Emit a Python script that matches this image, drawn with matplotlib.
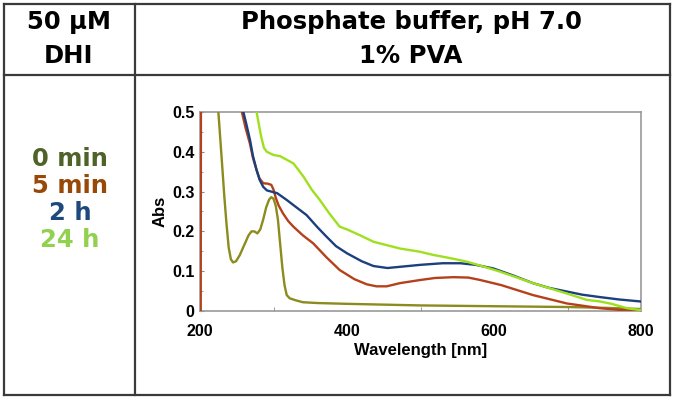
import matplotlib.pyplot as plt
from matplotlib.lines import Line2D

plt.rcParams['font.family'] = ['Liberation Sans', 'DejaVu Sans']
plt.rcParams['font.weight'] = 'bold'

# spectra (wavelength nm, absorbance)
wl_0min = [225, 230, 233, 236, 239, 242, 245, 249, 254, 260, 266, 270, 274,
           278, 282, 286, 290, 294, 297, 300, 303, 306, 309, 312, 315, 318,
           322, 330, 340, 360, 400, 450, 500, 550, 600, 650, 700, 750, 800]
abs_0min = [0.5, 0.37, 0.29, 0.22, 0.16, 0.13, 0.122, 0.125, 0.14, 0.165,
            0.19, 0.2, 0.2, 0.195, 0.205, 0.23, 0.26, 0.28, 0.286, 0.282,
            0.265, 0.23, 0.17, 0.11, 0.065, 0.04, 0.032, 0.027, 0.022, 0.02,
            0.018, 0.016, 0.014, 0.013, 0.012, 0.011, 0.01, 0.008, 0.005]

wl_5min = [201, 201.5, 255, 257, 262, 268, 272, 277, 281, 286, 292, 297,
           300, 303, 307, 313, 320, 327, 340, 354, 372, 390, 410, 427, 440,
           454, 472, 500, 520, 545, 565, 581, 610, 653, 699, 744, 770, 790,
           800]
abs_5min = [0.0, 1.0, 0.55, 0.5, 0.46, 0.42, 0.385, 0.354, 0.333, 0.321,
            0.32, 0.317, 0.305, 0.285, 0.265, 0.245, 0.226, 0.212, 0.19,
            0.17, 0.135, 0.103, 0.08, 0.067, 0.062, 0.062, 0.07, 0.078,
            0.083, 0.085, 0.084, 0.078, 0.065, 0.04, 0.019, 0.007, 0.003,
            0.002, 0.0]

wl_2h = [259, 263, 268, 272, 277, 281, 286, 291, 297, 305, 318, 330, 345,
         360, 372, 385, 400, 420, 436, 455, 472, 500, 530, 554, 575, 599,
         625, 653, 675, 699, 720, 744, 770, 799]
abs_2h = [0.5, 0.47, 0.43, 0.39, 0.354, 0.33, 0.312, 0.303, 0.3, 0.296,
          0.279, 0.262, 0.241, 0.21, 0.187, 0.163, 0.145, 0.125, 0.113,
          0.108, 0.111, 0.116, 0.12, 0.12, 0.116, 0.107, 0.09, 0.07, 0.058,
          0.049, 0.041, 0.035, 0.029, 0.024]

wl_24h = [277, 280, 283, 287, 291, 300, 309, 318, 327, 335, 341, 352, 363,
          376, 390, 400, 418, 436, 455, 472, 499, 517, 540, 563, 585, 608,
          630, 653, 676, 699, 726, 744, 760, 781, 800]
abs_24h = [0.5, 0.47, 0.44, 0.41, 0.4, 0.392, 0.389, 0.38, 0.371, 0.352,
           0.337, 0.305, 0.279, 0.245, 0.212, 0.205, 0.19, 0.174, 0.165,
           0.157, 0.149, 0.141, 0.133, 0.124, 0.112, 0.099, 0.085, 0.07,
           0.057, 0.044, 0.028, 0.024, 0.018, 0.007, 0.002]

line_colors = ['#8b8b1e', '#b5411a', '#1c3f7e', '#9ee01e']
labels = ['0 min', '5 min', '2 h', '24 h']
label_colors = ['#4f6228', '#984807', '#1f497d', '#92d050']

W, H = 675, 401
fig = plt.figure(figsize=(W / 100, H / 100), dpi=100)

# table grid (figure pixel coords -> fraction)
def fx(px):
    return px / W

def fy(py):
    return 1 - py / H

grid_kw = dict(color='#3a3a3a', lw=1.6, transform=fig.transFigure)
x0, x1, xm = 4, 670, 135
y0, y1, ym = 4, 395, 75
for xa, ya, xb, yb in [(x0, y0, x1, y0), (x0, y1, x1, y1), (x0, y0, x0, y1),
                       (x1, y0, x1, y1), (xm, y0, xm, y1), (x0, ym, x1, ym)]:
    fig.add_artist(Line2D([fx(xa), fx(xb)], [fy(ya), fy(yb)], **grid_kw))

cell_font = dict(family=['DejaVu Sans'], fontsize=17.5, fontweight='bold')
fig.text(fx(69), fy(22), '50 \u00b5M', ha='center', va='center', **cell_font)
fig.text(fx(69), fy(56), 'DHI', ha='center', va='center', **cell_font)
fig.text(fx(411), fy(22), 'Phosphate buffer, pH 7.0', ha='center',
         va='center', **cell_font)
fig.text(fx(411), fy(56), '1% PVA', ha='center', va='center', **cell_font)

for i, (lab, c) in enumerate(zip(labels, label_colors)):
    fig.text(fx(70), fy(159 + 27 * i), lab, ha='center', va='center',
             color=c, **cell_font)

ax = fig.add_axes([fx(200), fy(311), fx(641) - fx(200), fy(112) - fy(311)])
for wl, ab, c in [(wl_0min, abs_0min, line_colors[0]),
                  (wl_5min, abs_5min, line_colors[1]),
                  (wl_2h, abs_2h, line_colors[2]),
                  (wl_24h, abs_24h, line_colors[3])]:
    ax.plot(wl, ab, color=c, lw=1.7, zorder=3, solid_joinstyle='round')

ax.set_xlim(200, 800)
ax.set_ylim(0, 0.5)
ax.set_xticks([200, 400, 600, 800])
ax.set_xticks([300, 500, 700], minor=True)
ax.set_yticks([0, 0.1, 0.2, 0.3, 0.4, 0.5])
ax.set_yticks([0.05, 0.15, 0.25, 0.35, 0.45], minor=True)
ax.set_yticklabels(['0', '0.1', '0.2', '0.3', '0.4', '0.5'])
ax.tick_params(axis='both', which='both', direction='in', length=3,
               color='#888888', labelsize=11.5)
ax.tick_params(axis='x', which='major', length=0, pad=9)
ax.tick_params(axis='y', which='major', pad=4)
ax.tick_params(axis='y', which='minor', length=2)
for lbl in ax.get_xticklabels() + ax.get_yticklabels():
    lbl.set_fontweight('bold')
for s in ax.spines.values():
    s.set_color('#999999')
    s.set_linewidth(1.2)

ax.set_xlabel('Wavelength [nm]', fontsize=12, fontweight='bold', labelpad=3)
ax.set_ylabel('Abs', fontsize=12, fontweight='bold', labelpad=3)

fig.savefig('out.png', dpi=100)
